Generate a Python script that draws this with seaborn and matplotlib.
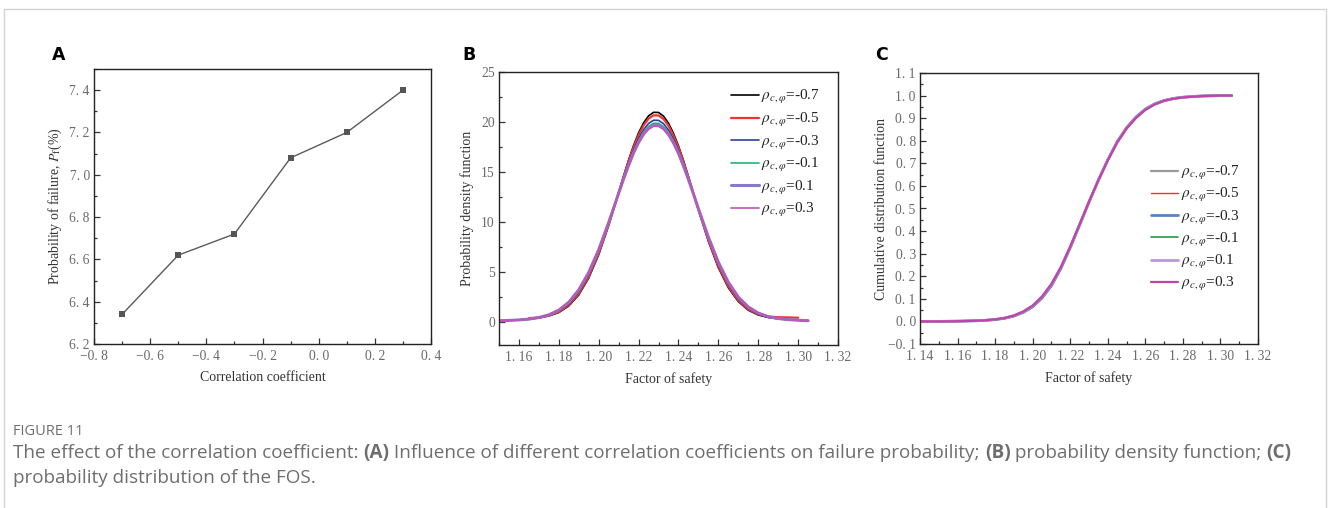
import numpy as np
import pandas as pd
import matplotlib
matplotlib.use("Agg")
import matplotlib.pyplot as plt
import seaborn as sns
from matplotlib.ticker import MultipleLocator, FuncFormatter
from matplotlib.lines import Line2D

# ---------------- data ----------------
# Panel A
corr_coef = [-0.7, -0.5, -0.3, -0.1, 0.1, 0.3]
pf_percent = [6.34, 6.62, 6.72, 7.08, 7.20, 7.40]

# Panel B : probability density of FOS
series_labels = [r"$\rho_{c,\varphi}$=-0.7", r"$\rho_{c,\varphi}$=-0.5", r"$\rho_{c,\varphi}$=-0.3",
                 r"$\rho_{c,\varphi}$=-0.1", r"$\rho_{c,\varphi}$=0.1", r"$\rho_{c,\varphi}$=0.3"]
fos_pdf_x = [1.150, 1.155, 1.160, 1.165, 1.170, 1.175, 1.180, 1.185, 1.190, 1.195, 1.200, 1.205,
             1.210, 1.2125, 1.215, 1.2175, 1.220, 1.2225, 1.225, 1.2275, 1.230, 1.2325, 1.235,
             1.2375, 1.240, 1.2425, 1.245, 1.2475,
             1.250, 1.255, 1.260, 1.265, 1.270, 1.275, 1.280, 1.285, 1.290, 1.295, 1.300, 1.305]
pdf_m07 = [0.10, 0.14, 0.19, 0.26, 0.38, 0.58, 0.92, 1.58, 2.68, 4.38, 6.72, 9.65, 12.94,
           14.60, 16.19, 17.65, 18.91, 19.91, 20.61, 20.96, 20.95, 20.58, 19.88, 18.86, 17.60,
           16.13, 14.53, 12.87,
           11.20, 8.06, 5.41, 3.40, 2.02, 1.15, 0.68, 0.42, 0.29, 0.20, 0.15, 0.10]
pdf_m05_x = [1.165, 1.170, 1.175, 1.180, 1.185, 1.190, 1.195, 1.200, 1.205, 1.210,
             1.2125, 1.215, 1.2175, 1.220, 1.2225, 1.225, 1.2275, 1.230, 1.2325, 1.235,
             1.2375, 1.240, 1.2425, 1.245, 1.2475,
             1.250, 1.255, 1.260, 1.265, 1.270, 1.275, 1.280, 1.285, 1.290, 1.295, 1.300]
pdf_m05 = [0.36, 0.42, 0.61, 0.98, 1.67, 2.80, 4.51, 6.83, 9.71, 12.92,
           14.53, 16.07, 17.48, 18.69, 19.65, 20.33, 20.66, 20.65, 20.30, 19.62,
           18.64, 17.43, 16.01, 14.46, 12.85,
           11.23, 8.15, 5.54, 3.53, 2.12, 1.22, 0.75, 0.52, 0.45, 0.43, 0.40]
pdf_m03 = [0.10, 0.13, 0.18, 0.26, 0.40, 0.65, 1.07, 1.81, 2.99, 4.72, 7.02, 9.82, 12.89,
           14.42, 15.86, 17.19, 18.33, 19.22, 19.85, 20.17, 20.16, 19.83, 19.19, 18.28, 17.14,
           15.81, 14.35, 12.82,
           11.27, 8.31, 5.75, 3.74, 2.29, 1.35, 0.79, 0.48, 0.31, 0.21, 0.15, 0.10]
pdf_m01 = [0.10, 0.13, 0.18, 0.26, 0.41, 0.67, 1.12, 1.89, 3.10, 4.84, 7.14, 9.89, 12.87,
           14.35, 15.74, 17.02, 18.11, 18.97, 19.56, 19.87, 19.86, 19.54, 18.94, 18.07, 16.97,
           15.69, 14.29, 12.81,
           11.30, 8.41, 5.87, 3.86, 2.40, 1.43, 0.84, 0.50, 0.31, 0.21, 0.15, 0.10]
pdf_p01 = [0.10, 0.13, 0.18, 0.26, 0.42, 0.69, 1.16, 1.95, 3.18, 4.93, 7.21, 9.93, 12.86,
           14.30, 15.66, 16.91, 17.96, 18.80, 19.37, 19.67, 19.66, 19.35, 18.77, 17.92, 16.86,
           15.61, 14.24, 12.80,
           11.32, 8.47, 5.96, 3.95, 2.47, 1.48, 0.87, 0.51, 0.32, 0.21, 0.15, 0.10]
pdf_p03 = [0.10, 0.13, 0.18, 0.26, 0.42, 0.70, 1.18, 1.98, 3.22, 4.97, 7.25, 9.95, 12.85,
           14.28, 15.62, 16.85, 17.89, 18.71, 19.28, 19.57, 19.56, 19.26, 18.68, 17.85, 16.80,
           15.57, 14.22, 12.79,
           11.33, 8.50, 6.00, 3.99, 2.50, 1.50, 0.88, 0.52, 0.32, 0.21, 0.15, 0.10]

# Panel C : cumulative distribution of FOS
fos_cdf_x = [1.140, 1.150, 1.160, 1.170, 1.175, 1.180, 1.185, 1.190, 1.195, 1.200, 1.205,
             1.210, 1.215, 1.220, 1.225, 1.230, 1.235, 1.240, 1.245, 1.250, 1.255, 1.260,
             1.265, 1.270, 1.275, 1.280, 1.285, 1.290, 1.295, 1.300, 1.306]
cdf_m07 = [0.000, 0.000, 0.001, 0.003, 0.005, 0.008, 0.013, 0.023, 0.040, 0.065, 0.105,
           0.160, 0.236, 0.328, 0.428, 0.530, 0.627, 0.717, 0.797, 0.859, 0.906, 0.941,
           0.964, 0.979, 0.988, 0.993, 0.996, 0.998, 0.999, 1.000, 1.000]
cdf_m05 = [0.000, 0.000, 0.001, 0.003, 0.005, 0.008, 0.013, 0.023, 0.039, 0.063, 0.102,
           0.156, 0.233, 0.326, 0.427, 0.530, 0.628, 0.718, 0.798, 0.860, 0.906, 0.941,
           0.964, 0.979, 0.988, 0.993, 0.996, 0.998, 0.999, 1.000, 1.000]
cdf_m03 = [0.000, 0.000, 0.001, 0.003, 0.005, 0.008, 0.014, 0.024, 0.040, 0.065, 0.104,
           0.158, 0.234, 0.326, 0.426, 0.528, 0.625, 0.715, 0.795, 0.857, 0.904, 0.940,
           0.963, 0.978, 0.987, 0.993, 0.996, 0.998, 0.999, 1.000, 1.000]
cdf_m01 = [0.000, 0.000, 0.001, 0.003, 0.005, 0.009, 0.014, 0.025, 0.042, 0.067, 0.107,
           0.162, 0.237, 0.329, 0.428, 0.529, 0.625, 0.714, 0.794, 0.856, 0.903, 0.939,
           0.962, 0.978, 0.987, 0.992, 0.996, 0.998, 0.999, 1.000, 1.000]
cdf_p01 = [0.000, 0.000, 0.001, 0.003, 0.005, 0.009, 0.015, 0.026, 0.043, 0.069, 0.109,
           0.164, 0.239, 0.330, 0.429, 0.529, 0.625, 0.714, 0.793, 0.855, 0.902, 0.938,
           0.962, 0.977, 0.987, 0.992, 0.996, 0.998, 0.999, 1.000, 1.000]
cdf_p03 = [0.000, 0.000, 0.001, 0.003, 0.005, 0.009, 0.015, 0.026, 0.044, 0.070, 0.110,
           0.166, 0.240, 0.331, 0.430, 0.530, 0.625, 0.713, 0.792, 0.854, 0.901, 0.937,
           0.961, 0.977, 0.986, 0.992, 0.995, 0.998, 0.999, 1.000, 1.000]

# ---------------- style ----------------
sns.set_theme(style="ticks")
plt.rcParams["font.family"] = ["Liberation Serif", "DejaVu Serif"]
plt.rcParams["mathtext.fontset"] = "stix"
plt.rcParams["axes.linewidth"] = 1.0
plt.rcParams["axes.edgecolor"] = "#222222"

TICK_COLOR = "#6a6a6a"
LABEL_COLOR = "#333333"

fig = plt.figure(figsize=(13.28, 5.08), dpi=100)
fig.patch.set_facecolor("white")

W, H = 1328.0, 508.0
def box(l, t, r, b):
    return [l / W, 1 - b / H, (r - l) / W, (b - t) / H]

axA = fig.add_axes(box(94, 69, 431, 344))
axB = fig.add_axes(box(499, 72, 838, 345))
axC = fig.add_axes(box(920, 73, 1258, 344))

def spaced(fmt):
    def f(v, pos):
        s = fmt.format(v)
        if s in ("-0.0", "-0.00"):
            s = s[1:]
        s = s.replace(".", ". ").replace("-", "\u2212")
        return s
    return FuncFormatter(f)

def style_axes(ax, xmaj, xmin, ymaj, ymin, xfmt, yfmt):
    ax.xaxis.set_major_locator(MultipleLocator(xmaj))
    ax.xaxis.set_minor_locator(MultipleLocator(xmin))
    ax.yaxis.set_major_locator(MultipleLocator(ymaj))
    ax.yaxis.set_minor_locator(MultipleLocator(ymin))
    ax.xaxis.set_major_formatter(xfmt)
    ax.yaxis.set_major_formatter(yfmt)
    ax.tick_params(which="both", direction="in", top=False, right=False,
                   colors="#333333", labelcolor=TICK_COLOR, labelsize=9.8, width=0.9)
    ax.tick_params(which="major", length=4, pad=3)
    ax.tick_params(axis="x", which="major", pad=4)
    ax.tick_params(which="minor", length=2.5)
    for s in ax.spines.values():
        s.set_visible(True)
        s.set_color("#222222")
        s.set_linewidth(1.0)
    ax.set_facecolor("white")
    ax.grid(False)

# ---------------- Panel A ----------------
dfA = pd.DataFrame({"corr": corr_coef, "pf": pf_percent})
sns.lineplot(data=dfA, x="corr", y="pf", ax=axA, color="#5a5a5a", lw=1.0,
             marker="s", markersize=5, markeredgewidth=0, markerfacecolor="#555555")
axA.set_xlim(-0.8, 0.4)
axA.set_ylim(6.2, 7.5)
style_axes(axA, 0.2, 0.1, 0.2, 0.1, spaced("{:.1f}"), spaced("{:.1f}"))
axA.set_xlabel("Correlation coefficient", fontsize=10, color=LABEL_COLOR, labelpad=6)
axA.set_ylabel(r"Probability of failure, $P_{\rm f}$(%)", fontsize=10, color=LABEL_COLOR)
axA.yaxis.set_label_coords(-0.089, 0.5)

# ---------------- Panel B ----------------
pdf_x_list = [fos_pdf_x, pdf_m05_x, fos_pdf_x, fos_pdf_x, fos_pdf_x, fos_pdf_x]
pdf_y_list = [pdf_m07, pdf_m05, pdf_m03, pdf_m01, pdf_p01, pdf_p03]
colorsB = ["#000000", "#ee3333", "#2c3f9a", "#22b573", "#8a78c8", "#c154b4"]
widthsB = [1.2, 1.6, 1.2, 1.2, 2.2, 1.2]
for xs, ys, lab, c, lw in zip(pdf_x_list, pdf_y_list, series_labels, colorsB, widthsB):
    d = pd.DataFrame({"x": xs, "y": ys})
    sns.lineplot(data=d, x="x", y="y", ax=axB, color=c, lw=lw, label=lab,
                 sort=False, estimator=None)
axB.set_xlim(1.15, 1.32)
axB.set_ylim(-2.33, 25)
style_axes(axB, 0.02, 0.01, 5, 2.5, spaced("{:.2f}"), FuncFormatter(lambda v, p: f"{v:.0f}"))
axB.set_xlabel("Factor of safety", fontsize=10, color=LABEL_COLOR, labelpad=6)
axB.set_ylabel("Probability density function", fontsize=10, color=LABEL_COLOR)
axB.yaxis.set_label_coords(-0.074, 0.5)
legB = axB.legend(loc="upper left", bbox_to_anchor=(0.685, 0.94), frameon=False,
                  fontsize=11, handlelength=1.8, handletextpad=0.15, labelspacing=0.3,
                  borderaxespad=0.0, borderpad=0.0)
for t in legB.get_texts():
    t.set_color("#222222")

# ---------------- Panel C ----------------
cdf_y_list = [cdf_m07, cdf_m05, cdf_m03, cdf_m01, cdf_p01, cdf_p03]
colorsC = ["#9a9a9a", "#ff2a2a", "#5a84c8", "#229944", "#b89ad6", "#c044a8"]
widthsC = [1.6, 1.0, 2.0, 1.2, 2.0, 1.6]
for ys, lab, c, lw in zip(cdf_y_list, series_labels, colorsC, widthsC):
    d = pd.DataFrame({"x": fos_cdf_x, "y": ys})
    sns.lineplot(data=d, x="x", y="y", ax=axC, color=c, lw=lw, label=lab,
                 sort=False, estimator=None)
axC.set_xlim(1.14, 1.32)
axC.set_ylim(-0.1, 1.1)
style_axes(axC, 0.02, 0.01, 0.1, 0.05, spaced("{:.2f}"), spaced("{:.1f}"))
axC.set_xlabel("Factor of safety", fontsize=10, color=LABEL_COLOR, labelpad=6)
axC.set_ylabel("Cumulative distribution function", fontsize=10, color=LABEL_COLOR)
axC.yaxis.set_label_coords(-0.095, 0.5)
legC = axC.legend(loc="upper left", bbox_to_anchor=(0.683, 0.664), frameon=False,
                  fontsize=11, handlelength=1.8, handletextpad=0.15, labelspacing=0.28,
                  borderaxespad=0.0, borderpad=0.0)
for t in legC.get_texts():
    t.set_color("#222222")

# ---------------- panel letters ----------------
for lx, letter in [(52, "A"), (462, "B"), (875, "C")]:
    fig.text(lx / W, 1 - 60 / H, letter, fontsize=12.5, fontweight="bold",
             family="DejaVu Sans", color="black", ha="left", va="baseline")

# ---------------- outer frame ----------------
frame_c = "#d4d4d4"
fig.add_artist(Line2D([4 / W, 4 / W], [0, 1 - 9 / H], color=frame_c, lw=1.0, transform=fig.transFigure))
fig.add_artist(Line2D([4 / W, 1326 / W], [1 - 9 / H, 1 - 9 / H], color=frame_c, lw=1.0, transform=fig.transFigure))
fig.add_artist(Line2D([1326 / W, 1326 / W], [0, 1 - 9 / H], color=frame_c, lw=1.0, transform=fig.transFigure))

# ---------------- caption ----------------
cap_color = "#6e6e6e"
fig.text(13 / W, 1 - 435 / H, "FIGURE 11", fontsize=10.5, family="Open Sans",
         color=cap_color, ha="left", va="baseline")

renderer = fig.canvas.get_renderer()
pieces = [("The effect of the correlation coefficient: ", "normal"),
          ("(A)", "bold"),
          (" Influence of different correlation coefficients on failure probability; ", "normal"),
          ("(B)", "bold"),
          (" probability density function; ", "normal"),
          ("(C)", "bold")]
xpix = 13.0
for txt, wt in pieces:
    t = fig.text(xpix / W, 1 - 458 / H, txt, fontsize=13.6, family="Open Sans",
                 fontweight=wt, color=cap_color, ha="left", va="baseline")
    bb = t.get_window_extent(renderer)
    xpix = bb.x1
fig.text(13 / W, 1 - 483 / H, "probability distribution of the FOS.", fontsize=13.6,
         family="Open Sans", color=cap_color, ha="left", va="baseline")

fig.savefig("out.png", dpi=100, facecolor="white")
